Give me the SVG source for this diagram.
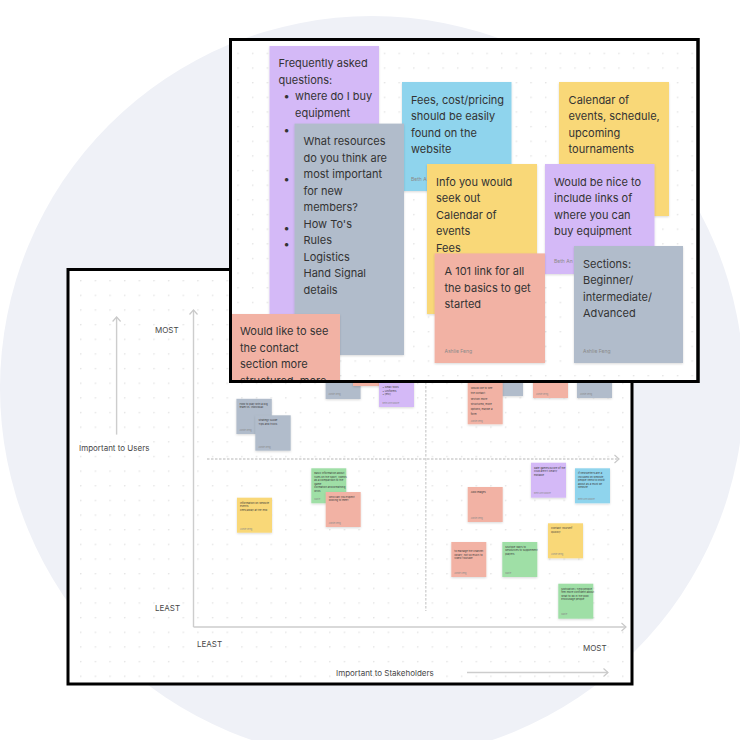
<svg xmlns="http://www.w3.org/2000/svg" width="740" height="740" viewBox="0 0 740 740">
<defs>
<style>
.n{stroke:none;filter:url(#sh)}
.pu{fill:#d4b9f7}.gr{fill:#b1bccb}.bl{fill:#8fd4ed}.ye{fill:#f9d878}.pk{fill:#f2b2a4}.gn{fill:#9fdfa6}
.t{font-family:Inter,"Noto Sans",sans-serif;font-size:11px;fill:#333}
.au{font-family:Inter,"Noto Sans",sans-serif;font-size:5px;fill:#8a8a8a}
.s{font-family:Inter,"Noto Sans",sans-serif;font-size:2.7px;fill:#3a3a3a}
.sa{font-family:Inter,"Noto Sans",sans-serif;font-size:2.2px;fill:#888}
.lb{font-family:Inter,"Noto Sans",sans-serif;font-size:8px;fill:#474747}
.ax{stroke:#cdcdcd;stroke-width:1.4;fill:none}
.da{stroke:#cfcfcf;stroke-width:1.3;fill:none;stroke-dasharray:2.5 1.5}
.board{fill:#fff;stroke:#000;stroke-width:3}
</style>
<pattern id="dotsT" x="237.3" y="52.7" width="14.65" height="14.65" patternUnits="userSpaceOnUse"><circle cx="0.8" cy="0.8" r="0.75" fill="#dcdcdc"/></pattern>
<pattern id="dotsB" x="80" y="280" width="14.65" height="14.65" patternUnits="userSpaceOnUse"><circle cx="0.8" cy="0.8" r="0.75" fill="#dcdcdc"/></pattern>
<filter id="sh" x="-10%" y="-10%" width="130%" height="130%"><feDropShadow dx="0" dy="1" stdDeviation="0.8" flood-color="#000" flood-opacity="0.15"/></filter>
<marker id="chev" viewBox="-1 -1 7 10" refX="4.5" refY="4" markerWidth="7" markerHeight="10" markerUnits="userSpaceOnUse" orient="auto"><path d="M0,0 L4.5,4 L0,8" fill="none" stroke="#c9c9c9" stroke-width="1.2"/></marker>
<clipPath id="clipT"><rect x="232" y="41" width="464.5" height="339"/></clipPath>
<clipPath id="clipB"><rect x="69.5" y="271" width="561" height="411.5"/></clipPath>
</defs>

<circle cx="372" cy="388" r="372" fill="#eff1f7"/>

<!-- bottom board -->
<g id="board-bottom">
<rect class="board" x="68" y="269.5" width="564" height="414.5"/>
<rect x="69.5" y="271" width="561" height="411.5" fill="url(#dotsB)"/>
</g>

<g id="connectors">
<line class="ax" x1="116.6" y1="434.6" x2="116.6" y2="317" marker-end="url(#chev)"/>
<line class="ax" x1="193.5" y1="627" x2="193.5" y2="310" marker-end="url(#chev)"/>
<line class="ax" x1="193.5" y1="627" x2="626" y2="627" marker-end="url(#chev)"/>
<line class="ax" x1="467" y1="672.5" x2="608" y2="672.5" marker-end="url(#chev)"/>
<line class="da" x1="207" y1="459" x2="619" y2="459" marker-end="url(#chev)"/>
<line class="da" x1="425.8" y1="382" x2="425.8" y2="611"/>
</g>

<g id="labels">
<text class="lb" x="79" y="451">Important to Users</text>
<text class="lb" x="155" y="333">MOST</text>
<text class="lb" x="155" y="611">LEAST</text>
<text class="lb" x="197" y="647">LEAST</text>
<text class="lb" x="583" y="650.5">MOST</text>
<text class="lb" x="336" y="675.5">Important to Stakeholders</text>
</g>

<g id="small-notes" clip-path="url(#clipB)">
<g id="sn-c"><rect class="n gr" x="325.6" y="364" width="35" height="35"/><text class="sa" x="328.5" y="395">Ashlie Feng</text></g>
<g id="sn-d"><rect class="n pk" x="353" y="351" width="35" height="35"/></g>
<g id="sn-e"><rect class="n pu" x="379" y="372" width="35" height="35"/><text class="s" x="382.5" y="387.7">• Small tools</text><text class="s" x="382.5" y="391.5">• Uniforms</text><text class="s" x="382.5" y="395.3">• [etc]</text><text class="sa" x="382.5" y="403.5">Beth Ann Moore</text></g>
<g id="sn-g"><rect class="n gr" x="488" y="361" width="35" height="35"/></g>
<g id="sn-f"><rect class="n pk" x="467.7" y="379" width="35" height="45.3"/>
<text class="s"><tspan x="470.7" y="389.3">Would like to see</tspan><tspan x="470.7" y="394.4">the contact</tspan><tspan x="470.7" y="399.5">section more</tspan><tspan x="470.7" y="404.5">structured, more</tspan><tspan x="470.7" y="409.6">options, maybe a</tspan><tspan x="470.7" y="414.7">form.</tspan></text><text class="sa" x="470.7" y="421.5">Ashlie Feng</text></g>
<g id="sn-h"><rect class="n pk" x="533" y="363" width="35" height="35"/><text class="sa" x="536" y="394.5">Ashlie Feng</text></g>
<g id="sn-i"><rect class="n gr" x="577" y="363" width="35" height="35"/><text class="sa" x="580" y="394.5">Ashlie Feng</text></g>
<g id="sn-a"><rect class="n gr" x="236.4" y="398.8" width="35.4" height="35.2"/><text class="s"><tspan x="239.5" y="404.5">How to play with a big</tspan><tspan x="239.5" y="408.2">team vs. individual</tspan></text><text class="sa" x="239.5" y="431">Ashlie Feng</text></g>
<g id="sn-b"><rect class="n gr" x="255.3" y="415.3" width="35.4" height="35.4"/><text class="s"><tspan x="258.5" y="421">Strategy Guide</tspan><tspan x="258.5" y="424.7">Tips and tricks</tspan></text><text class="sa" x="258.5" y="447.5">Ashlie Feng</text></g>
<g id="sn-j"><rect class="n ye" x="237" y="497.7" width="35" height="35"/><text class="s"><tspan x="240" y="503.5">Information on website</tspan><tspan x="240" y="507.2">events</tspan><tspan x="240" y="510.9">Fees/away at the end</tspan></text><text class="sa" x="240" y="529.5">Ashlie Feng</text></g>
<g id="sn-k"><rect class="n gn" x="311.3" y="468.3" width="35" height="35"/><text class="s"><tspan x="314.3" y="474">Basic information about</tspan><tspan x="314.3" y="477.6">rules on the sport, videos</tspan><tspan x="314.3" y="481.2">as a comparison to the</tspan><tspan x="314.3" y="484.8">game</tspan><tspan x="314.3" y="488.4">Formation and breathing</tspan><tspan x="314.3" y="492">drills</tspan></text><text class="sa" x="314.3" y="500">Marie</text></g>
<g id="sn-l"><rect class="n pk" x="325.7" y="492" width="35" height="35"/><text class="s"><tspan x="328.7" y="497.8">Who can you expect</tspan><tspan x="328.7" y="501.4">looking to meet</tspan></text><text class="sa" x="328.7" y="523.5">Ashlie Feng</text></g>
<g id="sn-m"><rect class="n pk" x="467.7" y="487" width="35" height="35"/><text class="s" x="470.7" y="492.8">Add images</text><text class="sa" x="470.7" y="518.5">Ashlie Feng</text></g>
<g id="sn-n"><rect class="n pu" x="531" y="462.7" width="35" height="35"/><text class="s"><tspan x="534" y="468.5">Rate games/Score of the</tspan><tspan x="534" y="472.1">Club aren't clearly</tspan><tspan x="534" y="475.7">editable</tspan></text><text class="sa" x="534" y="494">Beth Ann Moore</text></g>
<g id="sn-o"><rect class="n bl" x="575" y="468.3" width="35" height="35"/><text class="s"><tspan x="578" y="474">If newsletters are a</tspan><tspan x="578" y="477.6">included on website,</tspan><tspan x="578" y="481.2">people need to know</tspan><tspan x="578" y="484.8">about as a must be</tspan><tspan x="578" y="488.4">website</tspan></text><text class="sa" x="578" y="500">Beth Ann Moore</text></g>
<g id="sn-p"><rect class="n ye" x="548" y="523.3" width="35" height="35"/><text class="s"><tspan x="551" y="529">Contact Yourself</tspan><tspan x="551" y="532.6">Quickly</tspan></text><text class="sa" x="551" y="554.8">Ashlie Feng</text></g>
<g id="sn-q"><rect class="n pk" x="451.3" y="542" width="35" height="35"/><text class="s"><tspan x="454.3" y="552">to manage the channel</tspan><tspan x="454.3" y="555.6">library, not so much to</tspan><tspan x="454.3" y="559.2">video Youtube</tspan></text><text class="sa" x="454.3" y="573.5">Ashlie Feng</text></g>
<g id="sn-r"><rect class="n gn" x="502.3" y="542" width="35" height="35"/><text class="s"><tspan x="505.3" y="547.8">Multiple ways to</tspan><tspan x="505.3" y="551.4">Resources to supplement</tspan><tspan x="505.3" y="555">players</tspan></text><text class="sa" x="505.3" y="573.5">Marie</text></g>
<g id="sn-s"><rect class="n gn" x="558.3" y="583.7" width="35" height="35"/><text class="s"><tspan x="561.3" y="589.5">Motivation / help people</tspan><tspan x="561.3" y="593.1">feel more confident about</tspan><tspan x="561.3" y="596.7">what to do in the pool</tspan><tspan x="561.3" y="600.3">Encourage people</tspan></text><text class="sa" x="561.3" y="615">Marie</text></g>
</g>

<!-- top board -->
<g id="board-top">
<rect class="board" x="230.5" y="39.5" width="467.5" height="342"/>
<rect x="232" y="41" width="464.5" height="339" fill="url(#dotsT)"/>
</g>

<g id="top-notes" clip-path="url(#clipT)">
<g id="note-faq"><rect class="n pu" x="269.5" y="46" width="109.5" height="285"/>
<text class="t"><tspan x="278.5" y="67">Frequently asked</tspan><tspan x="278.5" y="83.5">questions:</tspan><tspan x="295" y="100">where do I buy</tspan><tspan x="295" y="116.5">equipment</tspan></text>
<text class="t" text-anchor="middle"><tspan x="286.5" y="100">•</tspan><tspan x="286.5" y="133.5">•</tspan><tspan x="286.5" y="182.5">•</tspan><tspan x="286.5" y="231.5">•</tspan><tspan x="286.5" y="248">•</tspan></text></g>
<g id="note-fees"><rect class="n bl" x="402" y="82" width="109.5" height="109"/>
<text class="t"><tspan x="411" y="103.6">Fees, cost/pricing</tspan><tspan x="411" y="120">should be easily</tspan><tspan x="411" y="136.6">found on the</tspan><tspan x="411" y="153">website</tspan></text><text class="au" x="411" y="181">Beth A</text></g>
<g id="note-calendar"><rect class="n ye" x="559" y="82" width="110" height="134"/>
<text class="t"><tspan x="568.6" y="103.6">Calendar of</tspan><tspan x="568.6" y="120">events, schedule,</tspan><tspan x="568.6" y="136.6">upcoming</tspan><tspan x="568.6" y="153">tournaments</tspan></text></g>
<g id="note-resources"><rect class="n gr" x="294.5" y="123.6" width="109.5" height="231.4"/>
<text class="t"><tspan x="303.5" y="145">What resources</tspan><tspan x="303.5" y="161.5">do you think are</tspan><tspan x="303.5" y="178">most important</tspan><tspan x="303.5" y="194.5">for new</tspan><tspan x="303.5" y="211">members?</tspan><tspan x="303.5" y="227.5">How To's</tspan><tspan x="303.5" y="244">Rules</tspan><tspan x="303.5" y="260.5">Logistics</tspan><tspan x="303.5" y="277">Hand Signal</tspan><tspan x="303.5" y="293.5">details</tspan></text></g>
<g id="note-info"><rect class="n ye" x="427" y="164" width="110" height="150"/>
<text class="t"><tspan x="436" y="185.7">Info you would</tspan><tspan x="436" y="202">seek out</tspan><tspan x="436" y="218.7">Calendar of</tspan><tspan x="436" y="235">events</tspan><tspan x="436" y="251.8">Fees</tspan></text></g>
<g id="note-links"><rect class="n pu" x="545" y="164" width="109.5" height="110"/>
<text class="t"><tspan x="554" y="185.7">Would be nice to</tspan><tspan x="554" y="202">include links of</tspan><tspan x="554" y="218.7">where you can</tspan><tspan x="554" y="235">buy equipment</tspan></text><text class="au" x="554" y="262.5">Beth An</text></g>
<g id="note-101"><rect class="n pk" x="434.6" y="253.4" width="110.4" height="109.6"/>
<text class="t"><tspan x="444.5" y="275.4">A 101 link for all</tspan><tspan x="444.5" y="292">the basics to get</tspan><tspan x="444.5" y="308.4">started</tspan></text><text class="au" x="444.5" y="352.5">Ashlie Feng</text></g>
<g id="note-sections"><rect class="n gr" x="574" y="246" width="109" height="117"/>
<text class="t"><tspan x="583" y="267.8">Sections:</tspan><tspan x="583" y="284.3">Beginner/</tspan><tspan x="583" y="300.8">intermediate/</tspan><tspan x="583" y="317.4">Advanced</tspan></text><text class="au" x="583" y="352.5">Ashlie Feng</text></g>
<g id="note-contact"><rect class="n pk" x="230.5" y="314" width="109.5" height="110"/>
<text class="t"><tspan x="240" y="335.3">Would like to see</tspan><tspan x="240" y="351.8">the contact</tspan><tspan x="240" y="368.3">section more</tspan><tspan x="240" y="384.5">structured, more</tspan></text></g>
</g>
<rect x="230.5" y="39.5" width="467.5" height="342" fill="none" stroke="#000" stroke-width="3"/>
</svg>
